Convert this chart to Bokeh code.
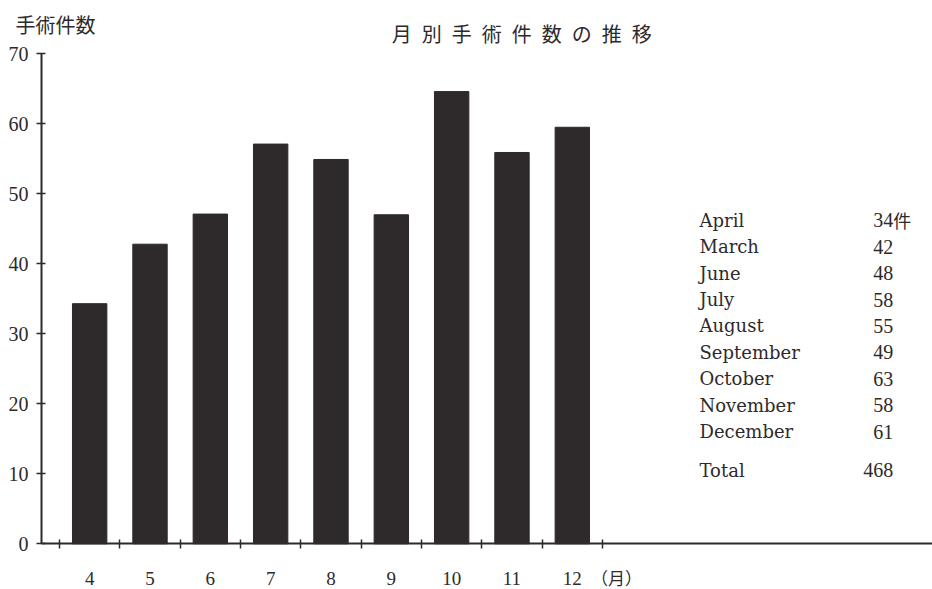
from bokeh.plotting import figure
from bokeh.models import ColumnDataSource, FixedTicker, Range1d
from bokeh.core.properties import value
from bokeh.embed import file_html
from bokeh.resources import INLINE

# ---- data ----
months = [4, 5, 6, 7, 8, 9, 10, 11, 12]
counts = [34.3, 42.8, 47.1, 57.1, 54.9, 47.0, 64.6, 55.9, 59.5]
y_ticks = [0, 10, 20, 30, 40, 50, 60, 70]
slot_edges = [3.5, 4.5, 5.5, 6.5, 7.5, 8.5, 9.5, 10.5, 11.5, 12.5]
month_labels = ["4", "5", "6", "7", "8", "9", "10", "11", "12"]
table_names = ["April", "March", "June", "July", "August", "September",
               "October", "November", "December"]
table_values = ["34", "42", "48", "58", "55", "49", "63", "58", "61"]
total_name = "Total"
total_value = "468"
count_unit = "件"
title_text = "月別手術件数の推移"
y_title = "手術件数"
x_unit = "（月）"

SERIF = "Liberation Serif"
TSERIF = "DejaVu Serif"
CJK = "Noto Sans CJK JP"
INK = "#2e2a2b"

p = figure(width=932, height=589, output_backend="svg", toolbar_location=None,
           x_range=Range1d(2.522, 17.97), y_range=Range1d(-6.53, 77.61),
           min_border=0, min_border_left=0, min_border_right=0,
           min_border_top=0, min_border_bottom=0)
p.background_fill_color = "white"
p.border_fill_color = "white"
p.outline_line_color = None
p.grid.visible = False

src = ColumnDataSource(dict(x=months, top=counts))
p.vbar(x="x", top="top", bottom=0, width=0.57, source=src,
       fill_color=INK, line_color=INK)

# y axis (fixed inside the frame)
ya = p.yaxis[0]
ya.fixed_location = 3.202
ya.ticker = FixedTicker(ticks=y_ticks, minor_ticks=[])
ya.bounds = (0, 70)
ya.axis_line_width = 2
ya.axis_line_color = INK
ya.major_tick_line_color = INK
ya.major_tick_line_width = 1.5
ya.major_tick_in = 4
ya.major_tick_out = 5
ya.minor_tick_line_color = None
ya.major_label_standoff = 8
ya.major_label_text_font = SERIF
ya.major_label_text_font_size = "20px"
ya.major_label_text_color = INK

# x axis (fixed at y = 0)
xa = p.xaxis[0]
xa.fixed_location = 0
xa.bounds = (3.202, 17.97)
xa.ticker = FixedTicker(ticks=months, minor_ticks=slot_edges)
xa.major_label_overrides = {m: s for m, s in zip(months, month_labels)}
xa.axis_line_width = 2
xa.axis_line_color = INK
xa.major_tick_in = 0
xa.major_tick_out = 0
xa.minor_tick_in = 4
xa.minor_tick_out = 5
xa.minor_tick_line_color = INK
xa.minor_tick_line_width = 1.5
xa.major_label_standoff = 23
xa.major_label_text_font = SERIF
xa.major_label_text_font_size = "19px"
xa.major_label_text_color = INK

# titles
spaced = "\u2002".join(title_text)
p.text(x=[11.16], y=[72.9], text=[spaced], text_font=value(CJK),
       text_font_size="20px", text_align="center", text_baseline="middle",
       text_color=INK)
p.text(x=[2.77], y=[74.2], text=[y_title], text_font=value(CJK),
       text_font_size="20px", text_align="left", text_baseline="middle",
       text_color=INK)
p.text(x=[12.31], y=[-4.75], text=[x_unit], text_font=value(CJK),
       text_font_size="17px", text_align="left", text_baseline="middle",
       text_color=INK, text_line_height=1.0)

# table
row_y = [46.2 - 3.77 * i for i in range(len(table_names))]
name_x = [14.108] * len(table_names)
val_x = [17.32] * len(table_names)
tsrc = ColumnDataSource(dict(nx=name_x, vx=val_x, y=row_y,
                             name=table_names, val=table_values))
p.text(x="nx", y="y", text="name", source=tsrc, text_font=value(TSERIF),
       text_font_size="18px", text_align="left", text_baseline="middle",
       text_color=INK)
p.text(x="vx", y="y", text="val", source=tsrc, text_font=value(SERIF),
       text_font_size="20px", text_align="right", text_baseline="middle",
       text_color=INK)
p.text(x=[17.32], y=[row_y[0]], text=[count_unit], text_font=value(CJK),
       text_font_size="18px", text_align="left", text_baseline="middle",
       text_color=INK)
p.text(x=[14.108], y=[10.47], text=[total_name], text_font=value(TSERIF),
       text_font_size="18px", text_align="left", text_baseline="middle",
       text_color=INK)
p.text(x=[17.32], y=[10.47], text=[total_value], text_font=value(SERIF),
       text_font_size="20px", text_align="right", text_baseline="middle",
       text_color=INK)

open("out.html", "w").write(file_html(p, INLINE))
